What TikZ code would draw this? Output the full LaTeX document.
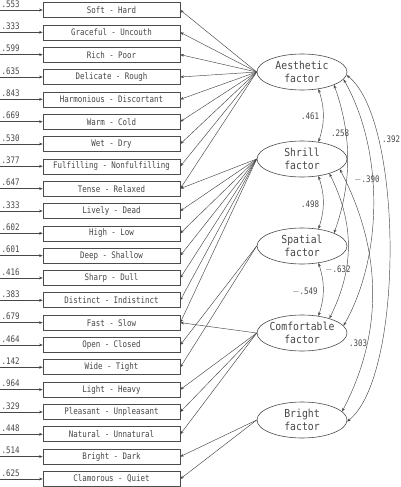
\documentclass[tikz,border=0pt]{standalone}
\usepackage{fontspec}
\setmainfont[FakeStretch=0.83]{DejaVu Sans Mono}
\newfontfamily\efont[FakeStretch=0.89]{DejaVu Sans Mono}
\usetikzlibrary{arrows.meta,shapes.geometric}
\begin{document}
\begin{tikzpicture}[x=1pt,y=-1pt,
 itembox/.style={draw=black!70, line width=0.6pt, minimum width=137pt, minimum height=15pt, inner sep=0pt, font=\fontsize{9}{10}\selectfont, text=black!72},
 factor/.style={ellipse, draw=black!70, line width=0.6pt, minimum width=90pt, minimum height=36pt, inner sep=0pt},
 ftext/.style={align=center, inner sep=0pt, font=\efont\fontsize{11}{13.5}\selectfont, text=black!72},
 errlab/.style={anchor=south west, inner sep=0pt, font=\fontsize{9}{10}\selectfont, text=black!72},
 link/.style={draw=black!72, line width=0.45pt, -{Stealth[length=3.6pt,width=2.8pt]}},
 cov/.style={draw=black!72, line width=0.45pt, {Stealth[length=3.6pt,width=2.8pt]}-{Stealth[length=3.6pt,width=2.8pt]}},
 covlab/.style={font=\fontsize{9}{10}\selectfont, inner sep=0pt, text=black!72}]
\useasboundingbox (0,0) rectangle (400,487);
\fill[white] (0,0) rectangle (400,487);
% items
\foreach \t [count=\i from 0] in {Soft - Hard, Graceful - Uncouth, Rich - Poor, Delicate - Rough, Harmonious - Discortant, Warm - Cold, Wet - Dry, Fulfilling - Nonfulfilling, Tense - Relaxed, Lively - Dead, High - Low, Deep - Shallow, Sharp - Dull, Distinct - Indistinct, Fast - Slow, Open - Closed, Wide - Tight, Light - Heavy, Pleasant - Unpleasant, Natural - Unnatural, Bright - Dark, Clamorous - Quiet}
  {\node[itembox] (b\i) at (111.5,{10+22.33*\i}) {\t};}
% error terms
\foreach \v [count=\i from 0] in {.553,.333,.599,.635,.843,.669,.530,.377,.647,.333,.602,.601,.416,.383,.679,.464,.142,.964,.329,.448,.514,.625}
  {\coordinate (e\i) at (0,{10+22.33*\i});
   \draw[link] (e\i) -- (b\i);
   \node[errlab] (n\i) at (1.5,{10+22.33*\i-2.5}) {\v};}
% factors
\node[factor] (aes) at (302,72) {};
\node[factor] (shr) at (302,159) {};
\node[factor] (spa) at (302,246) {};
\node[factor] (com) at (302,333) {};
\node[factor] (bri) at (302,420) {};
\node[ftext] (taes) at (aes) {Aesthetic\\factor};
\node[ftext] (tshr) at (shr) {Shrill\\factor};
\node[ftext] (tspa) at (spa) {Spatial\\factor};
\node[ftext] (tcom) at (com) {Comfortable\\factor};
\node[ftext] (tbri) at (bri) {Bright\\factor};
% loadings
\foreach \j in {0,...,8} \draw[link] (aes.west) -- (b\j.east);
\foreach \j in {8,...,14} \draw[link] (shr.west) -- (b\j.east);
\foreach \j in {15,16} \draw[link] (spa.west) -- (b\j.east);
\foreach \j in {14,17,18,19} \draw[link] (com.west) -- (b\j.east);
\foreach \j in {20,21} \draw[link] (bri.west) -- (b\j.east);
% covariances
\draw[cov] (aes.-46) to[bend left=18] (shr.46);
\draw[cov] (shr.-46) to[bend left=18] (spa.46);
\draw[cov] (spa.-46) to[bend left=18] (com.46);
\draw[cov] (aes.-22) .. controls +(18,50) and +(18,-50) .. (spa.22);
\draw[cov] (shr.-28) .. controls +(25,50) and +(25,-50) .. (com.28);
\draw[cov] (aes.-10) .. controls +(40,70) and +(40,-70) .. (com.10);
\draw[cov] (shr.-15) .. controls +(42,80) and +(42,-80) .. (bri.12);
\draw[cov] (aes.-4) .. controls +(57,45) and +(57,-45) .. (bri.-2);
% covariance labels
\node[covlab] (c1) at (310,116) {.461};
\node[covlab] (c2) at (340,133) {.258};
\node[covlab] (c3) at (391,139) {.392};
\node[covlab] (c4) at (367,180) {$-$.390};
\node[covlab] (c5) at (310,204) {.498};
\node[covlab] (c6) at (338,270) {$-$.632};
\node[covlab] (c7) at (305,292) {$-$.549};
\node[covlab] (c8) at (358,343) {.303};
\end{tikzpicture}
\end{document}
